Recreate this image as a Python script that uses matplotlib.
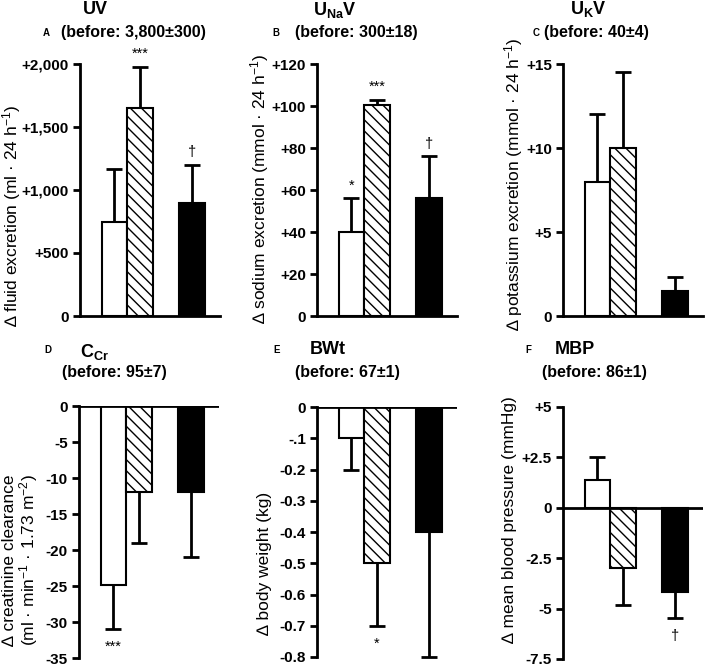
import matplotlib
matplotlib.use("Agg")
import matplotlib.pyplot as plt

# group means and one-sided errors (white, hatched, black bars)
uv_mean = [750, 1650, 900]
uv_err = [420, 330, 300]
una_mean = [40, 100.5, 56]
una_err = [16, 2.5, 20]
uk_mean = [8, 10, 1.5]
uk_err = [4, 4.5, 0.8]
ccr_mean = [-24.8, -12, -12]
ccr_err = [6.2, 7, 9]
bwt_mean = [-0.1, -0.5, -0.4]
bwt_err = [0.1, 0.2, 0.4]
mbp_mean = [1.4, -3, -4.2]
mbp_err = [1.1, 1.8, 1.25]

# significance marks per bar
uv_marks = ['', '***', '†']
una_marks = ['*', '***', '†']
uk_marks = ['', '', '']
ccr_marks = ['***', '', '']
bwt_marks = ['', '*', '']
mbp_marks = ['', '', '†']

uv_ticks = [0, 500, 1000, 1500, 2000]
uv_ticklabels = ['0', '+500', '+1,000', '+1,500', '+2,000']
una_ticks = [0, 20, 40, 60, 80, 100, 120]
una_ticklabels = ['0', '+20', '+40', '+60', '+80', '+100', '+120']
uk_ticks = [0, 5, 10, 15]
uk_ticklabels = ['0', '+5', '+10', '+15']
ccr_ticks = [0, -5, -10, -15, -20, -25, -30, -35]
ccr_ticklabels = ['0', '-5', '-10', '-15', '-20', '-25', '-30', '-35']
bwt_ticks = [0, -0.1, -0.2, -0.3, -0.4, -0.5, -0.6, -0.7, -0.8]
bwt_ticklabels = ['0', '-.1', '-0.2', '-0.3', '-0.4', '-0.5', '-0.6', '-0.7', '-0.8']
mbp_ticks = [5, 2.5, 0, -2.5, -5, -7.5]
mbp_ticklabels = ['+5', '+2.5', '0', '-2.5', '-5', '-7.5']

letters = ['A', 'B', 'C', 'D', 'E', 'F']
titles = ['UV', 'U$_{Na}$V', 'U$_{K}$V', 'C$_{Cr}$', 'BWt', 'MBP']
befores = ['(before: 3,800±300)', '(before: 300±18)', '(before: 40±4)',
           '(before: 95±7)', '(before: 67±1)', '(before: 86±1)']
ylabels = ['∆ fluid excretion (ml · 24 h$^{-1}$)',
           '∆ sodium excretion (mmol · 24 h$^{-1}$)',
           '∆ potassium excretion (mmol · 24 h$^{-1}$)',
           '∆ creatinine clearance\n(ml · min$^{-1}$ · 1.73 m$^{-2}$)',
           '∆ body weight (kg)',
           '∆ mean blood pressure (mmHg)']

plt.rcParams['mathtext.default'] = 'regular'
plt.rcParams['font.family'] = 'Liberation Sans'
plt.rcParams['hatch.linewidth'] = 1.0

W, H = 709, 666
fig = plt.figure(figsize=(W / 100, H / 100), dpi=100)

x_pos = [0, 1, 3.05]
faces = ['white', 'white', 'black']
hatches = [None, '\\\\\\', None]


def draw_panel(rect, mean, err, marks, ticks, ticklabels, ylim, ylabel, label_xy):
    l, t, w, b = rect
    ax = fig.add_axes([l / W, 1 - b / H, w / W, (b - t) / H])
    for i in range(3):
        ax.bar(x_pos[i], mean[i], width=1, color=faces[i], edgecolor='black',
               linewidth=1.5, hatch=hatches[i], zorder=2)
        # error bar only on the side away from zero
        if mean[i] >= 0:
            end = mean[i] + err[i]
            dy = 9
        else:
            end = mean[i] - err[i]
            dy = -13
        ax.vlines(x_pos[i], mean[i], end, color='black', linewidth=2,
                  zorder=1, clip_on=False)
        ax.plot([x_pos[i]], [end], marker='_', markersize=12, mew=2,
                color='black', clip_on=False)
        if marks[i]:
            ax.annotate(marks[i], (x_pos[i], end), xytext=(0, dy),
                        textcoords='offset points', ha='center', va='center',
                        fontsize=10.5, annotation_clip=False)
    ax.set_xlim(-1.35, 4.15)
    ax.set_ylim(*ylim)
    ax.set_yticks(ticks)
    ax.set_yticklabels(ticklabels, fontweight='bold', fontsize=11)
    ax.set_xticks([])
    ax.tick_params(axis='y', direction='out', length=5, width=2, pad=3)
    ax.spines['top'].set_visible(False)
    ax.spines['right'].set_visible(False)
    ax.spines['left'].set_linewidth(2)
    if ylim[0] == 0:
        ax.spines['bottom'].set_linewidth(2)
    else:
        ax.spines['bottom'].set_visible(False)
        ax.axhline(0, color='black', linewidth=2, zorder=3)
    ax.set_ylabel(ylabel, fontsize=12.5, linespacing=1.0)
    ax.yaxis.set_label_coords(*label_xy)
    return ax


draw_panel((80, 64, 140, 316), uv_mean, uv_err, uv_marks, uv_ticks, uv_ticklabels,
           (0, 2000), ylabels[0], (-0.405, 0.397))
draw_panel((317, 64, 140, 316), una_mean, una_err, una_marks, una_ticks, una_ticklabels,
           (0, 120), ylabels[1], (-0.33, 0.504))
draw_panel((563, 64, 140, 316), uk_mean, uk_err, uk_marks, uk_ticks, uk_ticklabels,
           (0, 15), ylabels[2], (-0.27, 0.524))
draw_panel((79, 406, 140, 658), ccr_mean, ccr_err, ccr_marks, ccr_ticks, ccr_ticklabels,
           (-35, 0), ylabels[3], (-0.28, 0.389))
draw_panel((317, 407, 140, 657), bwt_mean, bwt_err, bwt_marks, bwt_ticks, bwt_ticklabels,
           (-0.8, 0), ylabels[4], (-0.32, 0.376))
draw_panel((563, 407, 140, 659), mbp_mean, mbp_err, mbp_marks, mbp_ticks, mbp_ticklabels,
           (-7.5, 5), ylabels[5], (-0.33, 0.555))

# panel headings (pixel positions)
letter_xy = [(46, 33), (276, 33), (536, 33), (48, 350), (277, 350), (528, 350)]
title_xy = [(95, 9), (335, 10), (588, 9), (95, 352), (328, 350), (575, 350)]
before_xy = [(133, 33), (356, 33), (596, 33), (114, 373), (347, 373), (594, 373)]
for i in range(6):
    fig.text(letter_xy[i][0] / W, 1 - letter_xy[i][1] / H, letters[i],
             fontsize=7, fontweight='bold', ha='center', va='center')
    fig.text(title_xy[i][0] / W, 1 - title_xy[i][1] / H, titles[i],
             fontsize=13, fontweight='bold', ha='center', va='center')
    fig.text(before_xy[i][0] / W, 1 - before_xy[i][1] / H, befores[i],
             fontsize=11.5, fontweight='bold', ha='center', va='center')

fig.savefig("out.png", dpi=100)
